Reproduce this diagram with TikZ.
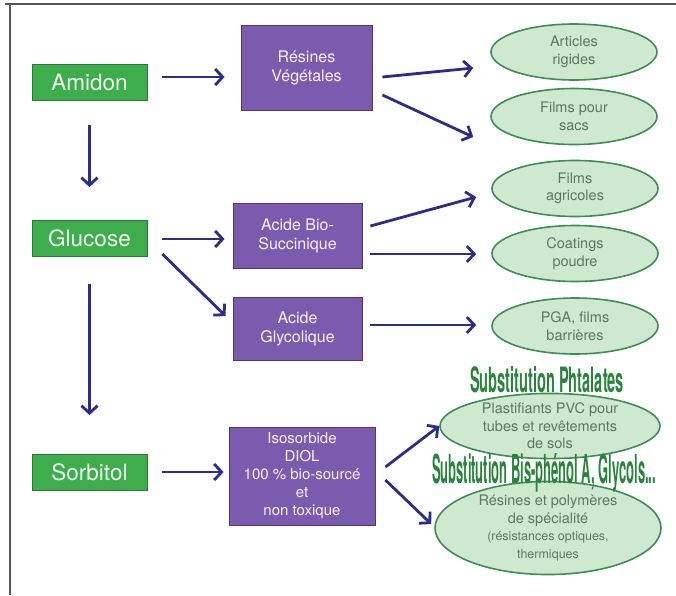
\documentclass[tikz,border=0pt]{standalone}
\usepackage{fontspec}
\setmainfont{TeX Gyre Heros}
\usepackage{graphicx}
\usetikzlibrary{shapes.geometric,arrows.meta,calc}
\definecolor{boxgreen}{HTML}{3DAE4B}
\definecolor{boxgreenD}{HTML}{2A7A36}
\definecolor{purp}{HTML}{7B5BAE}
\definecolor{purpD}{HTML}{4B3A72}
\definecolor{ellfill}{HTML}{CFE8D0}
\definecolor{elldraw}{HTML}{3C8E55}
\definecolor{elltext}{HTML}{5A7A5E}
\definecolor{navy}{HTML}{2C2C8E}
\definecolor{subst}{HTML}{27843A}
\definecolor{frame}{HTML}{555555}
\tikzset{
  srcbox/.style={draw=boxgreenD, fill=boxgreen, line width=0.8pt, minimum width=115pt, minimum height=36pt, inner sep=0pt, text=white!92!boxgreen, font=\fontsize{22.5}{24}\selectfont},
  midbox/.style={draw=purpD, fill=purp, line width=0.8pt, inner sep=0pt, text=white!92!purp, align=center, font=\fontsize{16}{19}\selectfont},
  prod/.style={ellipse, draw=elldraw, fill=ellfill, line width=1.6pt, minimum width=166pt, minimum height=56pt, inner sep=0pt, text=elltext, align=center, font=\fontsize{14.5}{17.5}\selectfont},
  arr/.style={draw=navy, line width=2.8pt, -{Straight Barb[length=7.5pt,width=16pt,line width=2.8pt]}},
  subtxt/.style={text=subst, inner sep=0pt, font=\bfseries}
}
\begin{document}
\begin{tikzpicture}[x=1pt,y=-1pt]
\useasboundingbox (0,0) rectangle (676,595);
% frame
\draw[frame, line width=1.4pt] (5,4) -- (676,4);
\draw[frame, line width=1.4pt] (10,4) -- (10,595);

% sources
\node[srcbox] (amidon) at (89.5,82) {Amidon};
\node[srcbox] (glucose) at (89.5,238.5) {Glucose};
\node[srcbox] (sorbitol) at (89.5,472.5) {Sorbitol};

% intermediates
\node[midbox, minimum width=131pt, minimum height=85pt] (res) at (306.5,67.5) {Résines\\Végétales};
\node[midbox, minimum width=129pt, minimum height=65pt] (succ) at (297.5,235.5) {Acide Bio-\\Succinique};
\node[midbox, minimum width=129pt, minimum height=63pt] (gly) at (297.5,328.5) {Acide\\Glycolique};
\node[midbox, minimum width=146pt, minimum height=98pt, font=\fontsize{15}{18}\selectfont] (iso) at (302,476) {Isosorbide\\DIOL\\100 \% bio-sourcé\\et\\non toxique};

% products
\node[prod] (art) at (574,52) {Articles\\rigides};
\node[prod] (sacs) at (574,116.5) {Films pour\\sacs};
\node[prod] (agri) at (575,188.5) {Films\\agricoles};
\node[prod] (coat) at (575,253.5) {Coatings\\poudre};
\node[prod] (pga) at (575,326) {PGA, films\\barrières};
\node[prod, minimum width=220pt, minimum height=58pt] (plast) at (550,426) {Plastifiants PVC pour\\tubes et revêtements\\de sols};
\node[prod, minimum width=226pt, minimum height=90pt] (spec) at (548,528) {Résines et polymères\\de spécialité\\{\fontsize{12.5}{15}\selectfont(résistances optiques,}\\{\fontsize{12.5}{15}\selectfont thermiques}};

% substitution titles
\node[subtxt] (t1) at (547,380) {\resizebox{154pt}{26pt}{Substitution Phtalates}};
\node[subtxt] (t2) at (544,473) {\resizebox{224pt}{30pt}{Substitution Bis-phénol A, Glycols...}};

% vertical arrows
\draw[arr] ($(amidon.south)+(0,25)$) -- ($(glucose.north)+(0,-33)$);
\draw[arr] ($(glucose.south)+(0,27)$) -- ($(sorbitol.north)+(0,-39)$);

% source to intermediate
\draw[arr] ($(amidon.east)+(15,-5)$) -- ($(res.west)+(-16,9.5)$);
\draw[arr] ($(glucose.east)+(15,0.5)$) -- ($(succ.west)+(-8,3.5)$);
\draw[arr] ($(glucose.east)+(15,15.5)$) -- ($(gly.west)+(-7,-12.5)$);
\draw[arr] ($(sorbitol.east)+(15,-0.5)$) -- ($(iso.west)+(-5,-4)$);

% intermediate to product
\draw[arr] ($(res.east)+(10,9.5)$) -- ($(art.west)+(-17,16)$);
\draw[arr] ($(res.east)+(10,27.5)$) -- ($(sacs.west)+(-17,20.5)$);
\draw[arr] ($(succ.east)+(8,-9.5)$) -- ($(agri.west)+(-15,8.5)$);
\draw[arr] ($(succ.east)+(8,18.5)$) -- ($(coat.west)+(-15,0.5)$);
\draw[arr] ($(gly.east)+(8,-3.5)$) -- ($(pga.west)+(-15,-1)$);
\draw[arr] ($(iso.east)+(10,-9)$) -- ($(plast.west)+(0,0)$);
\draw[arr] ($(iso.east)+(10,4)$) -- ($(spec.west)+(-3,-4)$);
\end{tikzpicture}
\end{document}
